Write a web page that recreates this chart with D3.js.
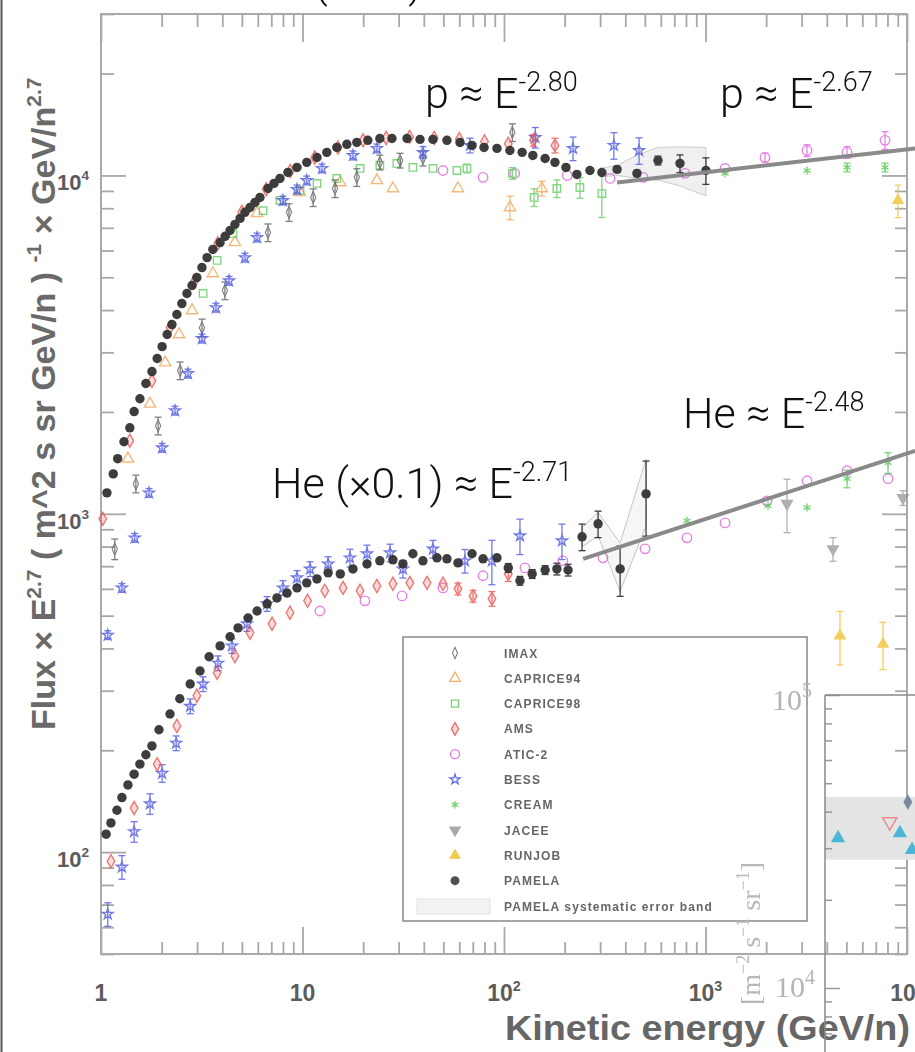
<!DOCTYPE html>
<html>
<head>
<meta charset="utf-8">
<title>Proton and helium spectra</title>
<script src="https://cdn.jsdelivr.net/npm/d3@7"></script>
<style>
  body { margin: 0; background: #fff; }
  svg { display: block; }
</style>
</head>
<body>
<svg id="chart" width="915" height="1052"></svg>
<script>
// spectra.js - proton / helium flux x E^2.7, compilation of experiments

// [E (GeV/n), flux x E^2.7, error %]
const pamelaP = [[1.07,1153],[1.15,1312],[1.21,1455],[1.30,1633],[1.39,1795],[1.46,2005],[1.56,2188],[1.67,2427],[1.79,2632],[1.90,2877],[2.01,3119],[2.13,3388],[2.25,3625],[2.38,3882],[2.52,4182],[2.67,4477],[2.83,4728],[2.99,4990],[3.17,5343],[3.36,5717],[3.59,6043],[3.90,6334],[4.13,6607],[4.37,6875],[4.62,7160],[4.90,7465],[5.18,7780],[5.49,8042],[5.81,8323],[6.15,8607],[6.74,9153],[7.22,9470],[7.73,9797],[8.47,10205],[9.39,10560],[10.5,10930],[11.8,11300],[13.2,11700],[14.8,12100],[16.6,12360],[18.6,12520],[21.1,12700],[24.2,12860],[27.8,12860],[33.0,12860],[38.3,12780],[44.4,12780],[52.1,12700],[60.5,12520],[69.4,12270],[79.6,12100],[92.3,12020],[107,11850],[123,11700],[139,11460],[160,11220],[179,10930],[203,10560],[230,10070],[267,10340],[306,10200],[364,10420,2],[457,10140,2],[581,11070,3],[747,10850,6],[1005,10340,9]];
const pamelaHe = [[1.06,113],[1.12,122],[1.20,133],[1.27,145],[1.36,158],[1.46,170],[1.56,182],[1.67,194],[1.79,206],[1.94,230],[2.20,256],[2.46,284],[2.77,314],[3.10,343],[3.44,378],[3.90,407],[4.37,433],[4.79,460],[5.37,492],[5.95,516],[6.67,542],[7.47,564],[8.38,583],[9.39,604],[10.5,625],[11.8,642],[13.4,669],[15.4,664],[17.8,687],[20.9,711],[24.2,726],[28.1,731],[31.5,711],[35.3,762],[39.6,726],[46.5,741],[52.1,736],[59.1,716],[69.4,762],[78.7,736],[92.3,741],[105,692,3],[120,634,3],[138,664,3],[160,682,3],[183,687,4],[208,682,4],[244,855,9],[293,934,9],[377,687,17],[507,1145,25]];
const imaxP = [[1.17,787,7],[1.49,1227,6],[1.92,1820,6],[2.47,2650,6],[3.17,3548,6],[4.12,4570,6],[6.74,6780,6],[8.57,7780,6],[11.3,8610,6],[14.5,9150,6],[18.6,9870,6],[24.2,10930,5],[30.5,11070,5],[39.6,11230,5],[110,13400,6]];
const caprice94P = [[1.36,1455],[1.75,2113],[2.08,2797],[2.44,3388],[2.83,3990],[3.59,5130],[4.62,6340],[5.95,7730],[9.7,8910],[15.4,9530],[23.4,9670],[28.1,9150],[59.1,9150],[107,8040,8],[154,9150,5]];
const caprice98P = [[3.21,4480],[3.77,5610],[4.52,6730],[6.37,7870],[7.73,8430],[9.72,9030],[11.8,9470],[14.8,9800],[19.3,10490],[24.2,10710],[29.4,10850],[35.3,10560],[44.4,10490],[58.4,10340],[65.5,10490,3],[110,10140,4],[141,8610,6],[183,9150,6],[238,9210,7],[306,8840,15]];
const amsP = [[1.02,966],[1.39,1645],[1.79,2472],[2.2,3550],[2.9,4850],[3.8,6300],[5.0,7800],[6.6,9100],[8.7,10300],[11.5,11300],[15,12100],[20,12700],[26,12900],[34,13000],[45,12900],[60,12800],[80,12600],[105,12400],[140,12700,4],[179,12270,5]];
const amsHe = [[1.12,94],[1.46,135],[1.90,182],[2.38,236],[2.99,290],[3.77,339],[4.62,380],[5.49,445],[7.06,473],[8.67,510],[10.6,553],[12.9,592],[15.9,604],[19.3,592],[23.4,612],[28.1,621],[34.1,625],[41.5,625],[49.8,621],[59.1,600,4],[70.2,571,4],[87.1,561,5],[105,664,5]];
const aticP = [[49.8,10340],[78.7,9870],[113,10140],[206,10000],[336,9800],[490,9870],[791,10140],[1250,10490],[1973,11300,3],[3190,11850,4],[5040,11700,4],[7780,12700,6]];
const aticHe = [[12.2,516],[20.4,553],[31.2,572],[49.8,604],[78.7,656],[127,692],[196,726],[310,741],[501,788],[809,849],[1250,940],[2018,1092],[3190,1252],[5040,1341],[8050,1270]];
const bessP = [[1.08,438,3],[1.27,604,3],[1.47,849,3],[1.73,1153,3],[2.01,1567,3],[2.33,2018,3],[2.70,2597,3],[3.17,3295,3],[3.72,4067,3],[4.32,4884,3],[5.18,5717,3],[5.95,6555,3],[8.00,8434,3],[9.39,9093,3],[10.5,9665,3],[12.5,10490,3],[17.8,11460,3],[23.4,12020,3],[39.6,11700,4],[67.8,12270,5],[143,12950,7],[220,12020,8],[351,12270,9],[468,11850,9]];
const bessHe = [[1.08,65.6,8],[1.27,90.4,8],[1.46,115,7],[1.75,139,7],[2.01,171,6],[2.36,210,5],[2.77,270,5],[3.21,314,5],[3.81,362,5],[4.47,407,5],[5.30,473,5],[6.67,542,5],[8.00,604,5],[9.39,647,5],[10.9,687,5],[13.4,711,5],[17.2,741,6],[20.9,762,6],[27.2,767,6],[31.5,687,6],[44.4,787,6],[64.0,726,8],[87.1,726,15],[120,861,12],[194,832,12]];
const creamP = [[1250,10140],[3190,10340],[5040,10560,3],[7780,10560,3]];
const creamHe = [[809,953],[2042,1057],[3190,1043],[5040,1270,6],[8050,1416,7]];
const jaceeHe = [[2538,1072,18],[4293,787,8],[9550,1114,5]];
const runjobP = [[9020,8435,11]];
const runjobHe = [[4648,436,18],[7600,412,16]];

// PAMELA systematic band [E, low, high]
const bandP = [[300,9900,10500],[364,10000,10700],[460,9800,11500],[580,9700,12100],[750,9300,12150],[1005,8700,12100]];
const bandHe = [[244,800,910],[293,860,1010],[377,590,820],[507,920,1450]];

// fitted power laws above the break
const fitP = [[364,9535],[10960,12020]];
const fitHe = [[247,736],[10960,1535]];

const legendNames = ["IMAX","CAPRICE94","CAPRICE98","AMS","ATIC-2","BESS","CREAM","JACEE","RUNJOB","PAMELA"];
const xLabelValues = [1, 10, 100, 1000, 10000];
const yLabelValues = [100, 1000, 10000];

// fragment of a second figure pasted over the corner
const insetBand = [27400, 44900];
const insetCyan = [[1.15,32500],[2.23,33800],[2.54,29600]];
const insetRed = [[2.0,36900]];
const insetGrey = [[2.43,43100]];

const svg = d3.select("#chart");
const x = d3.scaleLog().domain([1, 1e4]).range([101, 907]);
const y = d3.scaleLog().domain([50, 3e4]).range([954, 14]);

const FONT = "'Liberation Sans', Arial, sans-serif";
const LIGHT = "Roboto, 'Open Sans', 'Liberation Sans', sans-serif";

const st = {
    "IMAX": {sym: d3.symbolDiamond, size: 42, color: "#5a5a5a", fill: "none", sx: 0.75},
    "CAPRICE94": {sym: d3.symbolTriangle, size: 55, color: "#f2a455", fill: "none"},
    "CAPRICE98": {sym: d3.symbolSquare, size: 55, color: "#5ccc5c", fill: "none"},
    "AMS": {sym: d3.symbolDiamond, size: 50, color: "#e8504c", fill: "rgba(232,80,76,0.25)"},
    "ATIC-2": {sym: d3.symbolCircle, size: 70, color: "#dd5fdd", fill: "none"},
    "BESS": {sym: d3.symbolStar, size: 36, color: "#4a55dd", fill: "none"},
    "CREAM": {sym: d3.symbolAsterisk, size: 45, color: "#55c955", fill: "none"},
    "JACEE": {sym: d3.symbolTriangle, size: 50, color: "#9a9a9a", fill: "#9a9a9a", rot: 180},
    "RUNJOB": {sym: d3.symbolTriangle, size: 45, color: "#f0c030", fill: "#f0c030"},
    "PAMELA": {sym: d3.symbolCircle, size: 70, color: "#333", fill: "#333"}
};

// left border of the screenshot
svg.append("line").attr("x1", 1.5).attr("x2", 1.5).attr("y1", 0).attr("y2", 1052)
    .attr("stroke", "#555").attr("stroke-width", 2);

// ---- axes ----
const xTicks = [];
for (let k = 0; k < 4; k++) for (let d = 1; d < 10; d++) xTicks.push(d * Math.pow(10, k));
xTicks.push(1e4);
const yTicks = [50, 60, 70, 80, 90];
for (let k = 2; k < 4; k++) for (let d = 1; d < 10; d++) yTicks.push(d * Math.pow(10, k));
yTicks.push(1e4, 2e4, 3e4);
const isMajor = v => Math.abs(Math.log10(v) - Math.round(Math.log10(v))) < 1e-9;

function styleAxis(g, major, minor, attr) {
    g.select(".domain").remove();
    g.selectAll(".tick line").attr(attr, d => isMajor(d) ? major : minor)
        .attr("stroke", "#a8a8a8").attr("stroke-width", 1.8);
}
svg.append("g").attr("transform", "translate(0,954)")
    .call(d3.axisBottom(x).tickValues(xTicks).tickFormat("").tickSizeOuter(0))
    .call(g => styleAxis(g, -27, -12, "y2"));
svg.append("g").attr("transform", "translate(0,14)")
    .call(d3.axisTop(x).tickValues(xTicks).tickFormat("").tickSizeOuter(0))
    .call(g => styleAxis(g, 28, 13, "y2"));
svg.append("g").attr("transform", "translate(101,0)")
    .call(d3.axisLeft(y).tickValues(yTicks).tickFormat("").tickSizeOuter(0))
    .call(g => styleAxis(g, 25, 13, "x2"));
svg.append("g").attr("transform", "translate(907,0)")
    .call(d3.axisRight(y).tickValues(yTicks).tickFormat("").tickSizeOuter(0))
    .call(g => styleAxis(g, -25, -12, "x2"));

svg.append("rect").attr("x", x(1)).attr("y", y(3e4))
    .attr("width", x(1e4) - x(1)).attr("height", y(50) - y(3e4))
    .attr("fill", "none").attr("stroke", "#aaa").attr("stroke-width", 2);

function powLabel(sel, v) {
    const e = Math.round(Math.log10(v));
    if (e === 0) { sel.text("1"); return; }
    sel.append("tspan").text("10");
    if (e > 1) sel.append("tspan").attr("font-size", "0.62em").attr("dy", -10).text(e);
}
xLabelValues.forEach(v => {
    svg.append("text").attr("x", x(v)).attr("y", 1001).attr("text-anchor", "middle")
        .attr("font-family", FONT).attr("font-weight", "bold").attr("font-size", 23).attr("fill", "#5c5c5c")
        .call(s => powLabel(s, v));
});
yLabelValues.forEach(v => {
    svg.append("text").attr("x", 89).attr("y", y(v) + 15).attr("text-anchor", "end")
        .attr("font-family", FONT).attr("font-weight", "bold").attr("font-size", 22).attr("fill", "#5c5c5c")
        .call(s => powLabel(s, v));
});

// axis titles
svg.append("text").attr("x", 505).attr("y", 1040)
    .attr("font-family", FONT).attr("font-weight", "bold").attr("font-size", 35).attr("fill", "#666")
    .attr("textLength", 405).attr("lengthAdjust", "spacingAndGlyphs")
    .text("Kinetic energy (GeV/n)");

const yTitle = svg.append("text").attr("transform", "translate(55,730) rotate(-90)")
    .attr("font-family", FONT).attr("font-weight", "bold").attr("font-size", 34).attr("fill", "#6a6a6a");
[["Flux × E", false], ["2.7", true], [" ( m^2 s sr GeV/n ) ", false], ["-1", true], [" × GeV/n", false], ["2.7", true]]
    .forEach(([t, sup], i, arr) => {
        const prevSup = i > 0 && arr[i - 1][1];
        yTitle.append("tspan").attr("font-size", sup ? 21 : 34)
            .attr("dy", sup ? -14 : (prevSup ? 14 : 0)).text(t);
    });

// ---- data ----
const plot = svg.append("g");

plot.append("path").datum(bandP)
    .attr("d", d3.area().x(d => x(d[0])).y0(d => y(d[1])).y1(d => y(d[2])))
    .attr("fill", "#e6e6e6").attr("fill-opacity", 0.6).attr("stroke", "#ccc").attr("stroke-width", 1);
plot.append("path").datum(bandHe)
    .attr("d", d3.area().x(d => x(d[0])).y0(d => y(d[1])).y1(d => y(d[2])))
    .attr("fill", "#eee").attr("fill-opacity", 0.5).attr("stroke", "#c4c4c4").attr("stroke-width", 1);

function drawSeries(pts, name) {
    const s = st[name];
    const g = plot.append("g").attr("opacity", name === "PAMELA" ? 0.95 : 0.78);
    const withErr = pts.filter(d => d[2]);
    const eb = g.selectAll("g.err").data(withErr).join("g").attr("stroke", s.color).attr("stroke-width", 1.3);
    eb.append("line").attr("x1", d => x(d[0])).attr("x2", d => x(d[0]))
        .attr("y1", d => y(d[1] * (1 + d[2] / 100))).attr("y2", d => y(d[1] * (1 - d[2] / 100)));
    eb.append("line").attr("x1", d => x(d[0]) - 3.5).attr("x2", d => x(d[0]) + 3.5)
        .attr("y1", d => y(d[1] * (1 + d[2] / 100))).attr("y2", d => y(d[1] * (1 + d[2] / 100)));
    eb.append("line").attr("x1", d => x(d[0]) - 3.5).attr("x2", d => x(d[0]) + 3.5)
        .attr("y1", d => y(d[1] * (1 - d[2] / 100))).attr("y2", d => y(d[1] * (1 - d[2] / 100)));
    g.selectAll("path.pt").data(pts).join("path").attr("class", "pt")
        .attr("transform", d => `translate(${x(d[0])},${y(d[1])})` + (s.rot ? ` rotate(${s.rot})` : "") + (s.sx ? ` scale(${s.sx},1)` : ""))
        .attr("d", d3.symbol(s.sym, s.size))
        .attr("fill", s.fill).attr("stroke", s.color).attr("stroke-width", name === "PAMELA" ? 0 : 1.4);
}

drawSeries(aticP, "ATIC-2");
drawSeries(aticHe, "ATIC-2");
drawSeries(creamP, "CREAM");
drawSeries(creamHe, "CREAM");
drawSeries(jaceeHe, "JACEE");
drawSeries(runjobP, "RUNJOB");
drawSeries(runjobHe, "RUNJOB");
drawSeries(caprice94P, "CAPRICE94");
drawSeries(caprice98P, "CAPRICE98");
drawSeries(imaxP, "IMAX");
drawSeries(bessP, "BESS");
drawSeries(bessHe, "BESS");
drawSeries(amsP, "AMS");
drawSeries(amsHe, "AMS");
drawSeries(pamelaP, "PAMELA");
drawSeries(pamelaHe, "PAMELA");

const fitLine = d3.line().x(d => x(d[0])).y(d => y(d[1]));
[fitP, fitHe].forEach(f => {
    svg.append("path").datum(f).attr("d", fitLine)
        .attr("stroke", "#8a8a8a").attr("stroke-width", 4).attr("fill", "none");
});

// ---- annotations ----
function note(px, py, main, sup) {
    const t = svg.append("text").attr("x", px).attr("y", py)
        .attr("font-family", LIGHT).attr("font-weight", 300).attr("font-size", 43).attr("fill", "#111");
    t.append("tspan").text(main);
    if (sup) t.append("tspan").attr("font-size", 27).attr("dy", -17).text(sup);
}
note(425, 108, "p ≈ E", "-2.80");
note(720, 108, "p ≈ E", "-2.67");
note(683, 428, "He ≈ E", "-2.48");
note(272, 498, "He (×0.1) ≈ E", "-2.71");
note(314, -3, "(×0.1)", null);

// ---- legend ----
const leg = svg.append("g");
leg.append("rect").attr("x", 403).attr("y", 637).attr("width", 404).attr("height", 284)
    .attr("fill", "#fff").attr("stroke", "#888").attr("stroke-width", 1.5);
legendNames.forEach((n, i) => {
    const ly = 653 + i * 25.3;
    const s = st[n];
    leg.append("path").attr("transform", `translate(455,${ly})` + (s.rot ? ` rotate(${s.rot})` : "") + (s.sx ? ` scale(${s.sx},1)` : ""))
        .attr("d", d3.symbol(s.sym, s.size * 0.9)).attr("fill", s.fill).attr("stroke", s.color)
        .attr("stroke-width", n === "PAMELA" ? 0 : 1.3).attr("opacity", 0.85);
    leg.append("text").attr("x", 504).attr("y", ly + 4.5).attr("font-family", FONT).attr("font-weight", "bold")
        .attr("font-size", 12).attr("letter-spacing", 1.1).attr("fill", "#666").text(n);
});
leg.append("rect").attr("x", 417).attr("y", 899).attr("width", 73).attr("height", 15)
    .attr("fill", "#f2f2f2").attr("stroke", "#e2e2e2");
leg.append("text").attr("x", 504).attr("y", 911).attr("font-family", FONT).attr("font-weight", "bold")
    .attr("font-size", 12).attr("letter-spacing", 1.1).attr("fill", "#666").text("PAMELA systematic error band");

// ---- pasted corner of another figure ----
const ix = d3.scaleLog().domain([1, 10]).range([825, 1040]);
const iy = d3.scaleLog().domain([1e4, 1e5]).range([988, 695]);
const inset = svg.append("g");
inset.append("rect").attr("x", 825).attr("y", iy(insetBand[1])).attr("width", 95)
    .attr("height", iy(insetBand[0]) - iy(insetBand[1])).attr("fill", "#e4e4e4");
const iTicks = [6000, 7000, 8000, 9000];
for (let d = 1; d <= 10; d++) iTicks.push(d * 1e4);
inset.append("g").attr("transform", "translate(825,0)")
    .call(d3.axisLeft(iy).tickValues(iTicks).tickFormat("").tickSizeOuter(0))
    .call(g => { g.select(".domain").remove();
        g.selectAll(".tick line").attr("x2", d => isMajor(d) ? 15 : 7).attr("stroke", "#999").attr("stroke-width", 1.5); });
inset.append("line").attr("x1", 825).attr("x2", 825).attr("y1", iy(1e5)).attr("y2", 1052)
    .attr("stroke", "#888").attr("stroke-width", 1.5);
inset.append("line").attr("x1", 825).attr("x2", 915).attr("y1", iy(1e5)).attr("y2", iy(1e5))
    .attr("stroke", "#888").attr("stroke-width", 1.5);
inset.selectAll("path.c").data(insetCyan).join("path")
    .attr("transform", d => `translate(${ix(d[0])},${iy(d[1])})`)
    .attr("d", d3.symbol(d3.symbolTriangle, 90)).attr("fill", "#4cb6d6");
inset.selectAll("path.r").data(insetRed).join("path")
    .attr("transform", d => `translate(${ix(d[0])},${iy(d[1])}) rotate(180)`)
    .attr("d", d3.symbol(d3.symbolTriangle, 90)).attr("fill", "none").attr("stroke", "#f08a8a").attr("stroke-width", 1.4);
inset.selectAll("path.g").data(insetGrey).join("path")
    .attr("transform", d => `translate(${ix(d[0])},${iy(d[1])})`)
    .attr("d", d3.symbol(d3.symbolDiamond, 70)).attr("fill", "#7a8aa0");

const SERIF = "'Liberation Serif', 'DejaVu Serif', serif";
[[1e5, 812, 710], [1e4, 815, 997]].forEach(([v, lx, ly]) => {
    const t = svg.append("text").attr("x", lx).attr("y", ly).attr("text-anchor", "end")
        .attr("font-family", SERIF).attr("font-size", 30).attr("fill", "#b4b4b4");
    t.append("tspan").text("10");
    t.append("tspan").attr("font-size", 20).attr("dy", -13).text(Math.round(Math.log10(v)));
});
const unit = svg.append("text").attr("transform", "translate(760,862) rotate(-90)").attr("text-anchor", "end")
    .attr("font-family", SERIF).attr("font-size", 28).attr("fill", "#b8b8b8");
[["[m", 0], ["−2", -11], [" s", 11], ["−1", -11], [" sr", 11], ["−1", -11], ["]", 11]].forEach(([t, dy]) => {
    unit.append("tspan").attr("dy", dy).attr("font-size", dy < 0 ? 18 : 28).text(t);
});
</script>
</body>
</html>
